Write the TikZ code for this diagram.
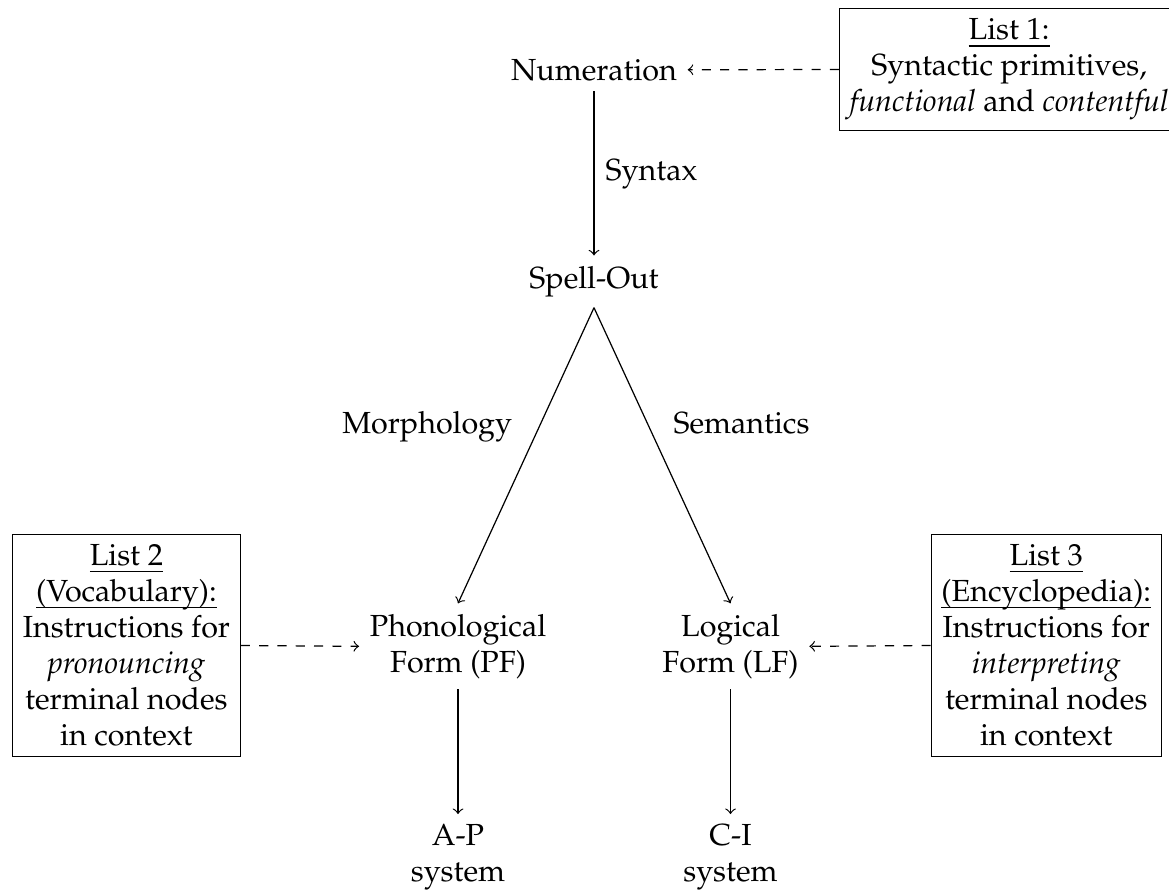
\documentclass[tikz,border=0pt]{standalone}
\usepackage[T1]{fontenc}
\usepackage{mathpazo}
\newsavebox\myulbox
\newcommand{\myul}[1]{\sbox\myulbox{#1}\rlap{\vrule height -1.8pt depth 2.2pt width \wd\myulbox}\usebox\myulbox}
\begin{document}
\begin{tikzpicture}[x=0.3279pt,y=-0.3279pt,
  font=\fontsize{10}{11.8}\selectfont,
  lbl/.style={inner sep=0pt},
  txt/.style={align=center},
  listbox/.style={draw,align=center},
  arr/.style={->},
  darr/.style={->,dashed}]
\useasboundingbox (0,0) rectangle (1169,890);
\node[txt,anchor=base] (num) at (594,80) {Numeration};
\node[txt,anchor=base] (spell) at (594,288.3) {Spell-Out};
\node[txt] (pf) at (458,646.3) {Phonological\\Form (PF)};
\node[txt] (lf) at (730.5,646.3) {Logical\\Form (LF)};
\node[txt] (ap) at (458,857.7) {A-P\\system};
\node[txt] (ci) at (730.5,857.7) {C-I\\system};
\node[listbox,anchor=west] (l1) at (839,69.5) {\myul{List 1:}\\Syntactic primitives,\\\textit{functional} and \textit{contentful}};
\node[listbox,anchor=west] (l2) at (12,645.5) {\myul{List 2}\\\myul{(Vocabulary):}\\Instructions for\\\textit{pronouncing}\\terminal nodes\\in context};
\node[listbox,anchor=west] (l3) at (930.7,645.5) {\myul{List 3}\\\myul{(Encyclopedia):}\\Instructions for\\\textit{interpreting}\\terminal nodes\\in context};
\node[lbl,anchor=base west] (syn) at (605,180) {Syntax};
\node[lbl,anchor=base east] (mor) at (512.7,433) {Morphology};
\node[lbl,anchor=base west] (sem) at (673,433) {Semantics};
\draw[arr] (num) -- (spell);
\draw[arr] (spell.south) -- (pf.north);
\draw[arr] (spell.south) -- (lf.north);
\draw[arr] (pf) -- (ap);
\draw[arr] (lf) -- (ci);
\draw[darr] (l1.west) -- (num.east);
\draw[darr] (l2.east) -- (pf.west);
\draw[darr] (l3.west) -- (lf.east);
\end{tikzpicture}
\end{document}
